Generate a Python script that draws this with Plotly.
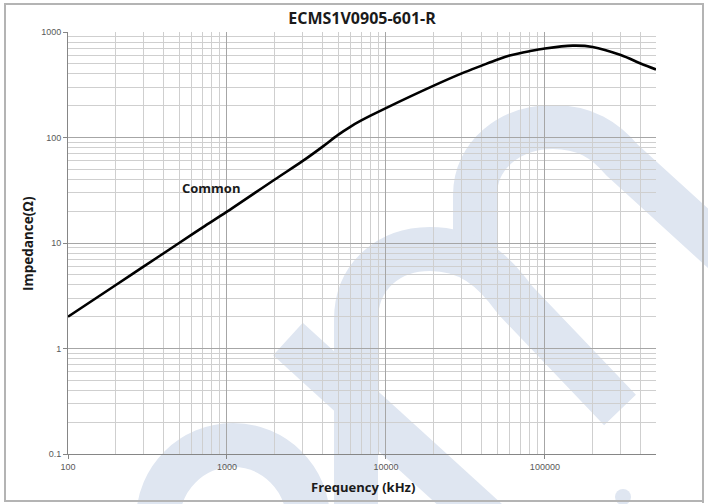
import plotly.graph_objects as go
import math

# ---------------- data ----------------
freq_khz = [100, 200, 300, 500, 700, 1000, 2000, 3000, 4000, 5000, 6000, 7000,
            8000, 10000, 20000, 30000, 40000, 50000, 60000, 80000,
            100000, 150000, 200000, 300000, 400000, 500000]
impedance = [2.0, 4.0, 6.0, 10.0, 14.0, 19.8, 40.0, 60.0, 82.0, 106.0, 127.0, 145.0,
             161.0, 190.0, 310.0, 405.0, 480.0, 546.0, 598.0, 658.0,
             698.0, 742.0, 722.0, 605.0, 503.0, 441.0]
series_name = "Common"
title_text = "ECMS1V0905-601-R"
x_title = "Frequency (kHz)"
y_title = "Impedance(Ω)"
x_tick_vals = [100, 1000, 10000, 100000]
x_tick_text = ["100", "1000", "10000", "100000"]
y_tick_vals = [0.1, 1, 10, 100, 1000]
y_tick_text = ["0.1", "1", "10", "100", "1000"]

# ---------------- layout geometry ----------------
W, H = 708, 504
L, R, T, B = 68, 52, 32, 50
PW, PH = W - L - R, H - T - B


def fx(x):
    return (x - L) / PW


def fy(y):
    return (H - B - y) / PH


def px(x, y):
    """pixel -> paper coordinates string"""
    return f"{fx(x):.4f},{fy(y):.4f}"


def minor_vals(lo_exp, hi_exp, upto=None):
    vals = []
    for e in range(lo_exp, hi_exp):
        for m in range(2, 10):
            v = m * 10 ** e
            if upto is None or v <= upto:
                vals.append(v)
    return vals


x_minor = minor_vals(2, 6, upto=500000)
y_minor = minor_vals(-1, 3)

fig = go.Figure()
fig.add_trace(go.Scatter(
    x=freq_khz, y=impedance, mode="lines", name=series_name,
    line=dict(color="black", width=2.6, shape="spline", smoothing=1.0),
    showlegend=False, hoverinfo="x+y"))

wm = "#dfe6f1"
wm_w = 44
shapes = []
# watermark: lower-left arc
shapes.append(dict(type="path", xref="paper", yref="paper", layer="below",
    path=f"M{px(158,560)} L{px(158,520)} C{px(158,478)} {px(192,445)} {px(233,445)} "
         f"C{px(274,445)} {px(308,478)} {px(308,520)} L{px(308,560)}",
    line=dict(color=wm, width=wm_w)))
# diagonal band
shapes.append(dict(type="path", xref="paper", yref="paper", layer="below",
    path=f"M{px(288,339)} L{px(500,532)}",
    line=dict(color=wm, width=wm_w)))
# upper-right arc
shapes.append(dict(type="path", xref="paper", yref="paper", layer="below",
    path=f"M{px(475,268)} L{px(475,195)} C{px(475,155)} {px(510,127)} {px(553,127)} "
         f"C{px(585,127)} {px(605,140)} {px(622,160)} L{px(745,272)}",
    line=dict(color=wm, width=wm_w)))
# middle arc
shapes.append(dict(type="path", xref="paper", yref="paper", layer="below",
    path=f"M{px(356,540)} L{px(356,320)} C{px(356,275)} {px(390,249)} {px(430,249)} "
         f"C{px(468,249)} {px(492,268)} {px(515,300)} L{px(620,410)}",
    line=dict(color=wm, width=wm_w)))
# dot
shapes.append(dict(type="circle", xref="paper", yref="paper", layer="below",
    x0=fx(615), x1=fx(631), y0=fy(505), y1=fy(489),
    fillcolor=wm, line=dict(width=0)))
# outer figure border: four thin filled strips
bcol = "#b4b4b4"
for (xa, ya, xb, yb) in [(4, 3, 704, 5), (702, 3, 704, 503), (4, 500, 704, 502), (4, 3, 6, 502)]:
    shapes.append(dict(type="rect", xref="paper", yref="paper", layer="above",
                       x0=fx(xa), x1=fx(xb), y0=fy(yb), y1=fy(ya),
                       fillcolor=bcol, line=dict(width=0)))

annotations = [
    dict(text=f"<b>{series_name}</b>", x=math.log10(790), y=math.log10(33.5),
         xref="x", yref="y", showarrow=False,
         font=dict(family="Open Sans", size=13, color="#1a1a1a")),
    dict(text=f"<b>{x_title}</b>", x=fx(363), y=fy(487),
         xref="paper", yref="paper", showarrow=False, yanchor="middle",
         font=dict(family="Open Sans", size=13, color="#1a1a1a")),
    dict(text=f"<b>{y_title}</b>", x=fx(28), y=fy(243),
         xref="paper", yref="paper", showarrow=False, textangle=-90,
         xanchor="center", yanchor="middle",
         font=dict(family="Open Sans", size=13.5, color="#1a1a1a")),
]

grid_major = "#a6a6a6"
grid_minor = "#cfcfcf"

fig.update_layout(
    width=W, height=H,
    margin=dict(l=L, r=R, t=T, b=B, autoexpand=False),
    paper_bgcolor="white", plot_bgcolor="rgba(0,0,0,0)",
    title=dict(text=f"<b>{title_text}</b>", x=362 / W, xanchor="center",
               y=1 - 18 / H, yanchor="middle", yref="container",
               font=dict(family="Open Sans", size=16, color="#1a1a1a")),
    shapes=shapes, annotations=annotations,
    xaxis=dict(type="log", range=[2, math.log10(500000)],
               tickvals=x_tick_vals, ticktext=x_tick_text,
               ticks="outside", ticklen=4, tickcolor="#868686",
               showline=True, linecolor="#868686", linewidth=1,
               showgrid=True, gridcolor=grid_major, gridwidth=1,
               minor=dict(tickvals=x_minor, showgrid=True, gridcolor=grid_minor,
                          gridwidth=1, ticks=""),
               tickfont=dict(family="Liberation Sans", size=9, color="#595959"),
               zeroline=False, fixedrange=True),
    yaxis=dict(type="log", range=[-1, 3],
               tickvals=y_tick_vals, ticktext=y_tick_text,
               ticks="outside", ticklen=4, tickcolor="#868686",
               showline=True, linecolor="#868686", linewidth=1,
               showgrid=True, gridcolor=grid_major, gridwidth=1,
               minor=dict(tickvals=y_minor, showgrid=True, gridcolor=grid_minor,
                          gridwidth=1, ticks=""),
               tickfont=dict(family="Liberation Sans", size=9, color="#595959"),
               zeroline=False, fixedrange=True),
)

fig.write_html("out.html", config={"displayModeBar": False},
               post_script="document.body.style.margin='0';")
